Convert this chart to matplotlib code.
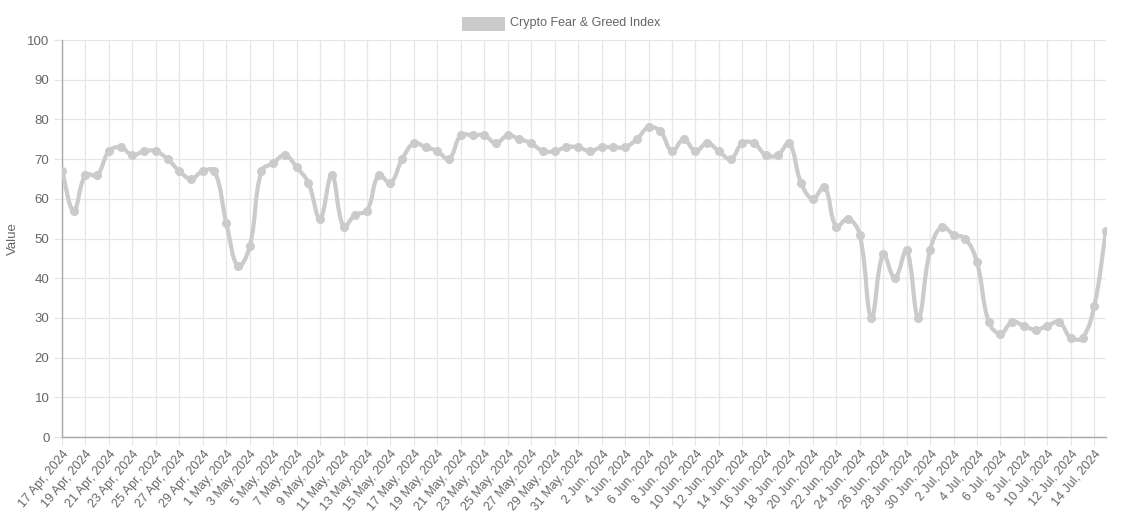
import numpy as np
import pandas as pd
import matplotlib
matplotlib.use('Agg')
import matplotlib.pyplot as plt
from matplotlib.path import Path
from matplotlib.patches import PathPatch, Rectangle

plt.rcParams['font.family'] = ['Liberation Sans', 'DejaVu Sans']

# daily dates, 17 Apr 2024 .. 15 Jul 2024
dates = pd.date_range('2024-04-17', '2024-07-15', freq='D')
labels = [f"{d.day} {d.strftime('%b')}, {d.year}" for d in dates]

values = [67, 57, 66, 66, 72, 73, 71, 72, 72, 70,
          67, 65, 67, 67, 54, 43, 48, 67, 69, 71,
          68, 64, 55, 66, 53, 56, 57, 66, 64, 70,
          74, 73, 72, 70, 76, 76, 76, 74, 76, 75,
          74, 72, 72, 73, 73, 72, 73, 73, 73, 75,
          78, 77, 72, 75, 72, 74, 72, 70, 74, 74,
          71, 71, 74, 64, 60, 63, 53, 55, 51, 30,
          46, 40, 47, 30, 47, 53, 51, 50, 44, 29,
          26, 29, 28, 27, 28, 29, 25, 25, 33, 52]

line_color = '#cbcbcb'
text_color = '#666666'

W, H = 1124, 515
fig = plt.figure(figsize=(W / 100, H / 100), dpi=100)
ax = fig.add_axes([62 / W, 1 - 437 / H, (1106 - 62) / W, (437 - 40) / H])

x = np.arange(len(values))
y = np.array(values, dtype=float)
ax.set_xlim(0, len(values) - 1)
ax.set_ylim(0, 100)

# smooth curve like chart.js (tension 0.4), computed in pixel units
sx = (1106 - 62) / (len(values) - 1)
sy = (437 - 40) / 100.0
px, py = x * sx, y * sy
t = 0.4
cp_prev = []
cp_next = []
for i in range(len(px)):
    i0 = max(i - 1, 0)
    i2 = min(i + 1, len(px) - 1)
    d01 = np.hypot(px[i] - px[i0], py[i] - py[i0])
    d12 = np.hypot(px[i2] - px[i], py[i2] - py[i])
    tot = d01 + d12
    s01 = d01 / tot if tot else 0
    s12 = d12 / tot if tot else 0
    fa, fb = t * s01, t * s12
    dx, dy = px[i2] - px[i0], py[i2] - py[i0]
    cp_prev.append((px[i] - fa * dx, py[i] - fa * dy))
    cp_next.append((px[i] + fb * dx, py[i] + fb * dy))

verts = [(x[0], y[0])]
codes = [Path.MOVETO]
for i in range(1, len(px)):
    c1 = cp_next[i - 1]
    c2 = cp_prev[i]
    verts += [(c1[0] / sx, c1[1] / sy), (c2[0] / sx, c2[1] / sy), (x[i], y[i])]
    codes += [Path.CURVE4] * 3
ax.add_patch(PathPatch(Path(verts, codes), fill=False, edgecolor=line_color,
                       lw=3, capstyle='round', joinstyle='round', zorder=3))
ax.plot(x, y, 'o', ms=5.5, color=line_color, zorder=4)

# axes styling
ax.set_xticks(x[::2])
ax.set_xticklabels(labels[::2], rotation=50, ha='right', rotation_mode='anchor',
                   fontsize=9, color=text_color)
ax.set_yticks(np.arange(0, 101, 10))
ax.tick_params(axis='y', labelsize=9.5, labelcolor=text_color, length=6,
               color='#e4e4e4', pad=3)
ax.tick_params(axis='x', length=6, color='#e4e4e4', pad=2)
ax.grid(True, color='#e6e6e6', lw=0.9)
ax.set_axisbelow(True)
for s in ['top', 'right']:
    ax.spines[s].set_visible(False)
for s in ['left', 'bottom']:
    ax.spines[s].set_color('#a8a8a8')
    ax.spines[s].set_linewidth(1)
ax.set_ylabel('Value', fontsize=9.5, color=text_color, labelpad=6)

# legend
fig.patches.append(Rectangle((462 / W, 1 - 31 / H), 43 / W, 14 / H,
                             transform=fig.transFigure, facecolor=line_color,
                             edgecolor='none'))
fig.text(510 / W, 1 - 23 / H, 'Crypto Fear & Greed Index', fontsize=9,
         color=text_color, va='center', ha='left')

fig.savefig('out.png', dpi=100, facecolor='white')
